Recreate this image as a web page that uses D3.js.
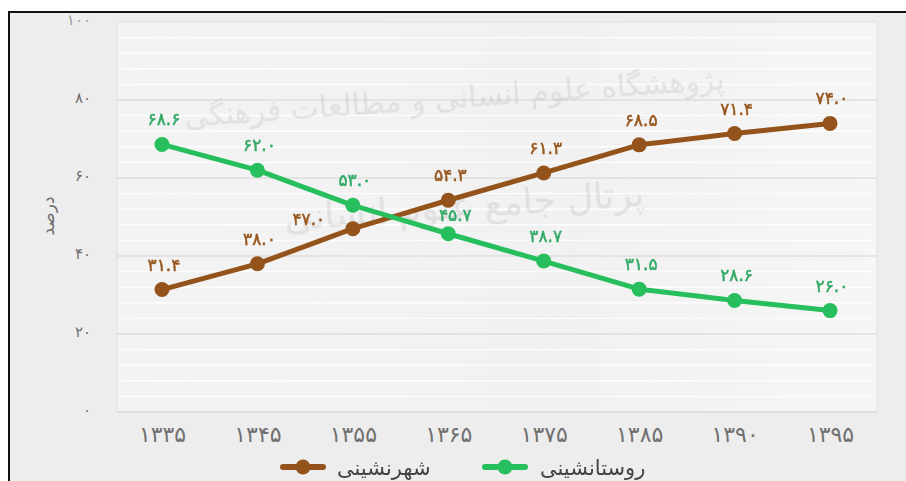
<!DOCTYPE html>
<html lang="fa">

<head>
	<meta charset="UTF-8">
	<title>شهرنشینی و روستانشینی</title>

	<style>
		body { margin: 0; background: #ffffff; }
		text { font-family: "DejaVu Sans", sans-serif; }
	</style>

	<script src="https://d3js.org/d3.v7.min.js"></script>
</head>

<body>
	<script type="text/javascript">
		const width = 906;
		const height = 481;

		// data
		const years = ["1335", "1345", "1355", "1365", "1375", "1385", "1390", "1395"];
		const urban = [31.4, 38.0, 47.0, 54.3, 61.3, 68.5, 71.4, 74.0];
		const rural = [68.6, 62.0, 53.0, 45.7, 38.7, 31.5, 28.6, 26.0];
		const yTicks = [0, 20, 40, 60, 80, 100];
		const seriesNames = ["شهرنشینی", "روستانشینی"];

		const lineColors = ["#93531a", "#27bf5e"];
		const labelColors = ["#97561c", "#33aa66"];

		// persian digits
		const fa = s => String(s).replace(/\d/g, d => "۰۱۲۳۴۵۶۷۸۹"[d]);

		const svg = d3.select("body").append("svg")
			.attr("width", width)
			.attr("height", height);

		const x = d3.scalePoint().domain(years).range([162, 830]);
		const y = d3.scaleLinear().domain([0, 100]).range([412, 22]);

		// frame + background
		svg.append("rect").attr("x", 9).attr("y", 12).attr("width", width + 20).attr("height", height)
			.attr("fill", "#ededed").attr("stroke", "#111").attr("stroke-width", 2);

		const grad = svg.append("defs").append("linearGradient").attr("id", "bg")
			.attr("x1", 0).attr("x2", 1).attr("y1", 0).attr("y2", 0);
		grad.append("stop").attr("offset", "0%").attr("stop-color", "#f3f3f3");
		grad.append("stop").attr("offset", "60%").attr("stop-color", "#f1f1f1");
		grad.append("stop").attr("offset", "100%").attr("stop-color", "#f6f6f6");

		svg.append("rect").attr("x", 117).attr("y", y(100))
			.attr("width", 877 - 117).attr("height", y(0) - y(100))
			.attr("fill", "url(#bg)").attr("stroke", "#e2e2e2");

		// faint white stripes between the grid lines
		svg.append("g").selectAll("line")
			.data(d3.range(4, 100, 4).filter(v => v % 20 != 0))
			.join("line")
			.attr("x1", 120).attr("x2", 872)
			.attr("y1", d => y(d)).attr("y2", d => y(d))
			.attr("stroke", "#ffffff").attr("stroke-width", 1.5).attr("opacity", 0.9);

		// main grid lines
		svg.append("g").selectAll("line")
			.data(yTicks.filter(v => v < 100))
			.join("line")
			.attr("x1", 117).attr("x2", 877)
			.attr("y1", d => y(d)).attr("y2", d => y(d))
			.attr("stroke", "#d3d3d3").attr("stroke-width", 1.2);

		// watermark
		const wm = svg.append("g").attr("fill", "#8a8a8a").attr("opacity", 0.17)
			.style("font-family", "DejaVu Serif, DejaVu Sans");
		wm.append("text").attr("x", 455).attr("y", 108).attr("text-anchor", "middle")
			.attr("transform", "rotate(-4 455 108)")
			.style("font-size", "30px").text("پژوهشگاه علوم انسانی و مطالعات فرهنگی");
		wm.append("text").attr("x", 465).attr("y", 218).attr("text-anchor", "middle")
			.attr("transform", "rotate(-4 465 218)")
			.style("font-size", "36px").text("پرتال جامع علوم انسانی");

		// y axis
		const yAxis = d3.axisLeft(y).tickValues(yTicks).tickSize(0).tickPadding(0).tickFormat(fa);
		svg.append("g").attr("transform", "translate(91,-2)").call(yAxis)
			.call(g => g.select(".domain").remove())
			.selectAll("text")
			.attr("fill", (d) => d == 100 ? "#9a9a9a" : "#6e6e6e")
			.style("font-size", "15px").style("letter-spacing", "2px");

		svg.append("text")
			.attr("transform", "translate(54,216) rotate(-90)")
			.attr("text-anchor", "middle")
			.attr("fill", "#6e6e6e")
			.style("font-size", "17px")
			.text("درصد");

		// x axis
		const xAxis = d3.axisBottom(x).tickSize(0).tickPadding(0).tickFormat(fa);
		svg.append("g").attr("transform", "translate(0,426)").call(xAxis)
			.call(g => g.select(".domain").remove())
			.selectAll("text")
			.attr("fill", "#707070")
			.style("font-size", "22px").style("letter-spacing", "3px");

		// lines + points + labels
		const line = d3.line().x((d, i) => x(years[i])).y(d => y(d));

		[urban, rural].forEach(function(values, s) {
			svg.append("path")
				.datum(values)
				.attr("fill", "none")
				.attr("stroke", lineColors[s])
				.attr("stroke-width", 5)
				.attr("stroke-linejoin", "round")
				.attr("d", line);

			svg.append("g").selectAll("circle")
				.data(values)
				.join("circle")
				.attr("cx", (d, i) => x(years[i]))
				.attr("cy", d => y(d))
				.attr("r", 7.5)
				.attr("fill", lineColors[s]);

			svg.append("g").selectAll("text")
				.data(values)
				.join("text")
				.attr("x", function(d, i) {
					// 47.0 label sits to the left of its point, 45.7 a bit right
					if (s == 0 && i == 2) return x(years[i]) - 44;
					if (s == 1 && i == 3) return x(years[i]) + 7;
					return x(years[i]) + 2;
				})
				.attr("y", function(d, i) {
					if (s == 0 && i == 2) return y(d) - 4;
					if (s == 1 && i == 3) return y(d) - 13;
					return y(d) - 19;
				})
				.attr("text-anchor", "middle")
				.attr("fill", labelColors[s])
				.attr("stroke", labelColors[s])
				.attr("stroke-width", 0.5)
				.style("font-size", "17px")
				.style("letter-spacing", "3px")
				.text(d => fa(d.toFixed(1)));
		});

		// legend
		const legendX = [283, 485];
		const legendText = [337, 540];
		const legend = svg.append("g");
		seriesNames.forEach(function(name, s) {
			legend.append("line")
				.attr("x1", legendX[s]).attr("x2", legendX[s] + 40)
				.attr("y1", 467).attr("y2", 467)
				.attr("stroke", lineColors[s]).attr("stroke-width", 6).attr("stroke-linecap", "round");
			legend.append("circle")
				.attr("cx", legendX[s] + 20).attr("cy", 467).attr("r", 7.5)
				.attr("fill", lineColors[s]);
			legend.append("text")
				.attr("x", legendText[s]).attr("y", 475)
				.attr("fill", "#444")
				.style("font-size", "21px")
				.text(name);
		});
	</script>
</body>

</html>
